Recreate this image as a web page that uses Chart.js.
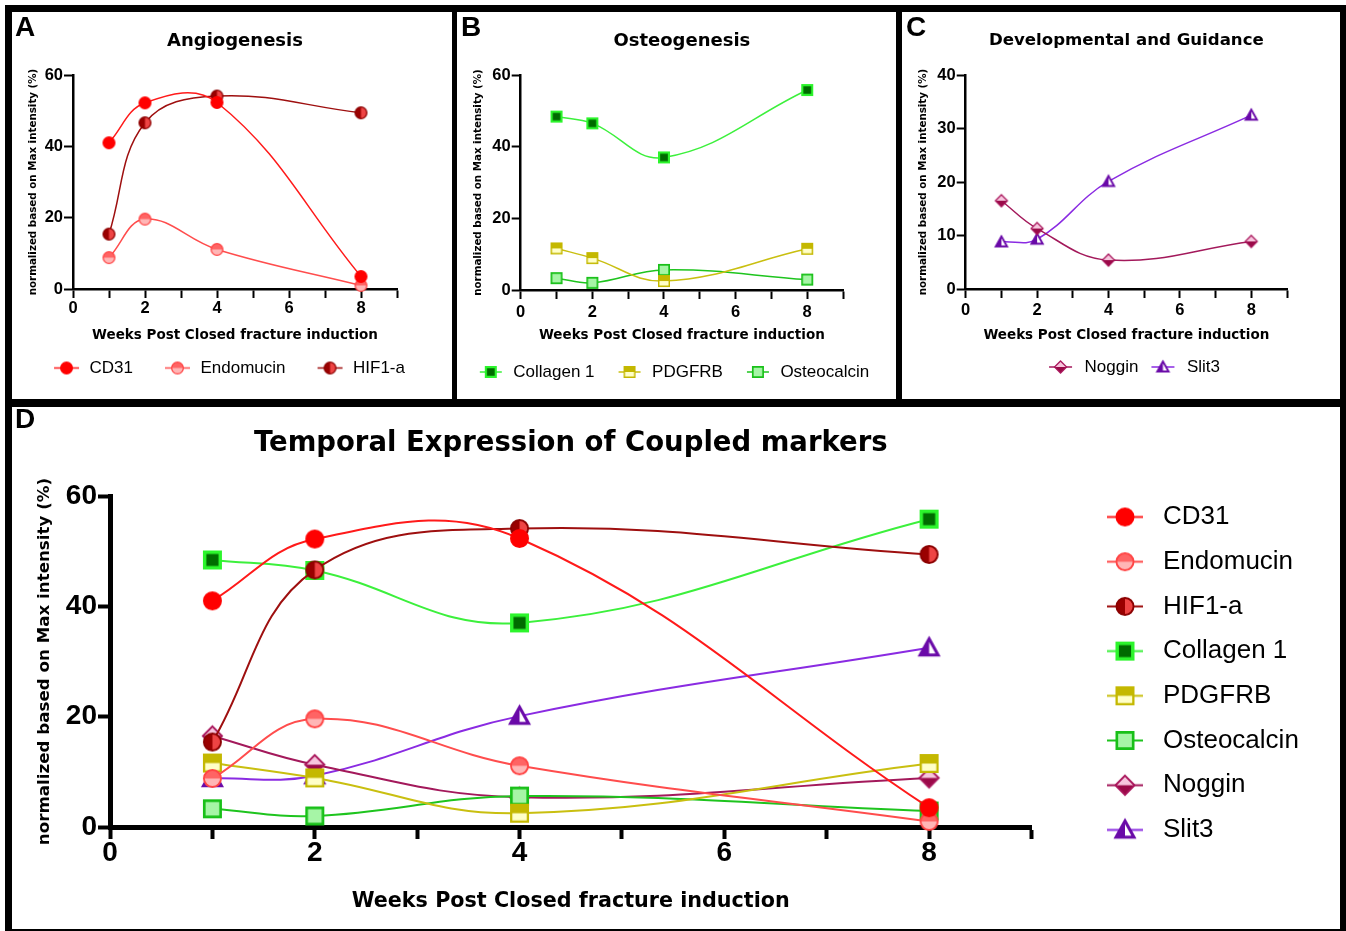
<!DOCTYPE html>
<html><head><meta charset="utf-8">
<script src="https://cdn.jsdelivr.net/npm/chart.js@4.4.1/dist/chart.umd.min.js"></script>
<style>
html,body{margin:0;padding:0;background:#fff;overflow:hidden;width:1346px;height:931px;}
#frame{position:absolute;left:5px;top:5px;width:1341px;height:926px;background:#000;}
.panel{position:absolute;background:#fff;}
canvas{position:absolute;}
.letter{position:absolute;font:bold 28px 'Liberation Sans',Arial,sans-serif;line-height:28px;color:#000;z-index:5;}
</style></head><body>
<div id="frame"></div>
<div class="panel" style="left:12px;top:12px;width:440px;height:387px"></div>
<div class="panel" style="left:457px;top:12px;width:439px;height:387px"></div>
<div class="panel" style="left:902px;top:12px;width:438px;height:387px"></div>
<div class="panel" style="left:12px;top:407px;width:1328px;height:522px"></div>
<div class="letter" style="left:15px;top:13px">A</div>
<div class="letter" style="left:461px;top:13px">B</div>
<div class="letter" style="left:906px;top:13px">C</div>
<div class="letter" style="left:15px;top:405px">D</div>
<canvas id="cA" width="411" height="387" style="left:12px;top:12px"></canvas>
<canvas id="cB" width="433" height="387" style="left:450px;top:12px"></canvas>
<canvas id="cC" width="460" height="387" style="left:902px;top:12px"></canvas>
<canvas id="cD" width="1334" height="522" style="left:12px;top:407px"></canvas>
<script>
// ---------------- data ----------------
const weeks = [1, 2, 4, 8];
const cd31 = [41.0, 52.2, 52.3, 3.5];
const endomucin = [8.8, 19.6, 11.1, 1.0];
const hif1a = [15.4, 46.6, 54.1, 49.4];
const collagen1 = [48.4, 46.5, 37.0, 55.8];
const pdgfrb = [11.6, 8.9, 2.5, 11.5];
const osteocalcin = [3.3, 2.0, 5.6, 2.9];
const noggin = [16.5, 11.3, 5.4, 8.9];
const slit3 = [8.8, 9.3, 20.1, 32.5];

const xTickMarks = [0, 1, 2, 3, 4, 5, 6, 7, 8, 9];
const xTickLabels = [0, 2, 4, 6, 8];
const yTicks60 = [0, 20, 40, 60];
const yTicks40 = [0, 10, 20, 30, 40];

const xTitle = 'Weeks Post Closed fracture induction';
const yTitle = 'normalized based on Max intensity (%)';

const DJ = "'DejaVu Sans', Verdana, sans-serif";
const LIB = "'Liberation Sans', Arial, sans-serif";

const SERIES = {
  cd31:        {label: 'CD31',        values: cd31,        line: '#ff1a1a', mk: {shape: 'circle',  stroke: '#ff0000', f1: '#ff0000', lw: 0.1}},
  endomucin:   {label: 'Endomucin',   values: endomucin,   line: '#ff4d4d', mk: {shape: 'circle',  stroke: '#ff4545', f1: '#ff6464', f2: '#ffb6b6', split: 'h', lw: 0.1}},
  hif1a:       {label: 'HIF1-a',      values: hif1a,       line: '#9e0f0f', mk: {shape: 'circle',  stroke: '#8b0000', f1: '#9a0000', f2: '#ee4444', split: 'v', lw: 0.1}},
  collagen1:   {label: 'Collagen 1',  values: collagen1,   line: '#3cf03c', mk: {shape: 'square',  stroke: '#2cf52c', f1: '#006b00', lw: 0.18}},
  pdgfrb:      {label: 'PDGFRB',      values: pdgfrb,      line: '#c9bf10', mk: {shape: 'square',  stroke: '#c4b800', f1: '#c4b800', f2: '#ffffc8', split: 'h', lw: 0.12}},
  osteocalcin: {label: 'Osteocalcin', values: osteocalcin, line: '#1ec41e', mk: {shape: 'square',  stroke: '#18c018', f1: '#a6f5a6', lw: 0.14}},
  noggin:      {label: 'Noggin',      values: noggin,      line: '#a3195b', mk: {shape: 'diamond', stroke: '#a8145a', f1: '#f7c6de', f2: '#9a0a48', split: 'h', lw: 0.1}},
  slit3:       {label: 'Slit3',       values: slit3,       line: '#8a2be2', mk: {shape: 'triangle',stroke: '#6a0aa8', f1: '#6a0aa8', f2: '#ffffff', split: 'v', lw: 0.16}}
};

// ---------------- marker painting ----------------
function drawShape(ctx, cx, cy, mk, s) {
  const lw = Math.max(1, s * mk.lw);
  const h = s / 2 - lw / 2;
  const path = () => {
    ctx.beginPath();
    if (mk.shape === 'circle') ctx.arc(cx, cy, h, 0, Math.PI * 2);
    else if (mk.shape === 'square') ctx.rect(cx - h, cy - h, 2 * h, 2 * h);
    else if (mk.shape === 'diamond') { const d = h * 1.12; ctx.moveTo(cx, cy - d); ctx.lineTo(cx + d, cy); ctx.lineTo(cx, cy + d); ctx.lineTo(cx - d, cy); ctx.closePath(); }
    else { const d = h * 1.12; ctx.moveTo(cx, cy - d); ctx.lineTo(cx + d, cy + d * 0.8); ctx.lineTo(cx - d, cy + d * 0.8); ctx.closePath(); }
  };
  ctx.save();
  path(); ctx.fillStyle = mk.f2 || mk.f1; ctx.fill();
  if (mk.f2) {
    ctx.save(); path(); ctx.clip();
    ctx.fillStyle = mk.f1;
    if (mk.split === 'h') ctx.fillRect(cx - s, cy - s, 2 * s, s);
    else ctx.fillRect(cx - s, cy - s, s, 2 * s);
    ctx.restore();
  }
  path(); ctx.lineWidth = lw; ctx.strokeStyle = mk.stroke; ctx.lineJoin = 'miter'; ctx.stroke();
  ctx.restore();
}
function pointIcon(mk, s) {
  const c = document.createElement('canvas');
  const n = Math.ceil(s * 1.3) + 4;
  c.width = n; c.height = n;
  drawShape(c.getContext('2d'), n / 2, n / 2, mk, s);
  return c;
}
function legendIcon(sr, lg, s, lineW) {
  const c = document.createElement('canvas');
  c.width = lg.B; c.height = Math.ceil(s * 1.3) + 4;
  const ctx = c.getContext('2d');
  const cy = c.height / 2;
  ctx.strokeStyle = sr.line; ctx.lineWidth = lineW;
  ctx.beginPath(); ctx.moveTo(lg.a, cy); ctx.lineTo(lg.a + lg.L, cy); ctx.stroke();
  drawShape(ctx, lg.a + lg.L / 2, cy, sr.mk, s);
  return c;
}

// ---------------- panels ----------------
const PANELS = [
  {id: 'cA', series: ['cd31', 'endomucin', 'hif1a'], title: 'Angiogenesis', titleSize: 18, titlePT: 18.2, titlePB: 23.2,
   yMax: 60, yTicks: yTicks60, yW: 61, ytPT: 14.8, yTitleSize: 10.3,
   xH: 62.5, xTitleSize: 13.5, xtPB: 8.4, xTickPad: 1.75,
   tickSize: 16.5, tl: 9, tw: 2, bw: 2.5, yTickPad: 1, S: 26,
   pad: {left: 0, right: 0, top: 0, bottom: 12.5},
   lg: {pos: 'bottom', align: 'center', B: 51, a: 24, L: 25, p: 8, fs: 17}, ms: 13, lineW: 1.5},
  {id: 'cB', series: ['collagen1', 'pdgfrb', 'osteocalcin'], title: 'Osteogenesis', titleSize: 18, titlePT: 18.2, titlePB: 23.2,
   yMax: 60, yTicks: yTicks60, yW: 70.7, ytPT: 21.8, yTitleSize: 10.3,
   xH: 65.5, xTitleSize: 13.5, xtPB: 12.4, xTickPad: 4.75,
   tickSize: 16.5, tl: 9, tw: 2, bw: 2.5, yTickPad: 1, S: 40,
   pad: {left: 0, right: 0, top: 0, bottom: 8.5},
   lg: {pos: 'bottom', align: 'center', B: 41, a: 16, L: 22, p: 8, fs: 17}, ms: 12, lineW: 1.5},
  {id: 'cC', series: ['noggin', 'slit3'], title: 'Developmental and Guidance', titleSize: 16.6, titlePT: 19.05, titlePB: 24.05,
   yMax: 40, yTicks: yTicks40, yW: 63.7, ytPT: 14.8, yTitleSize: 10.3,
   xH: 61.5, xTitleSize: 13.5, xtPB: 7.4, xTickPad: 3.75,
   tickSize: 16.5, tl: 9, tw: 2, bw: 2.5, yTickPad: 1, S: 75,
   pad: {left: 0, right: 0, top: 0, bottom: 13.5},
   lg: {pos: 'bottom', align: 'center', B: 32, a: 5, L: 23, p: 8, fs: 17}, ms: 12, lineW: 1.5},
  {id: 'cD', series: ['cd31', 'endomucin', 'hif1a', 'collagen1', 'pdgfrb', 'osteocalcin', 'noggin', 'slit3'],
   title: 'Temporal Expression of Coupled markers', titleSize: 27.5, titlePT: 20.5, titlePB: 35.5,
   yMax: 60, yTicks: yTicks60, yW: 98, ytPT: 23, yTitleSize: 16.7,
   xH: 102, xTitleSize: 20.7, xtPB: 14.6, xTickPad: 0,
   tickSize: 28, tl: 12, tw: 4, bw: 5, yTickPad: 1, S: 49.8,
   pad: {left: 0, right: 37.7, top: 0, bottom: 0},
   lg: {pos: 'right', align: 'start', B: 50, a: 7, L: 36, p: 18.7, fs: 26, maxWidth: 227, titlePad: 66.3}, ms: 19, lineW: 2}
];

Chart.defaults.color = '#000';
Chart.defaults.font.family = LIB;

function makeChart(P) {
  const keys = P.series;
  const icons = keys.map(k => legendIcon(SERIES[k], P.lg, P.ms, P.lineW));
  const lgTitle = P.lg.titlePad
    ? {display: true, text: '', font: {size: 10, lineHeight: 1.2}, padding: {top: P.lg.titlePad, bottom: 0}}
    : {display: false};
  return new Chart(document.getElementById(P.id), {
    type: 'line',
    data: {
      datasets: keys.map(k => {
        const sr = SERIES[k];
        return {
          label: sr.label,
          data: weeks.map((w, i) => ({x: w, y: sr.values[i]})),
          borderColor: sr.line, backgroundColor: sr.line,
          borderWidth: P.lineW, tension: 0.4, fill: false,
          pointStyle: pointIcon(sr.mk, P.ms), pointRadius: P.ms / 2, pointHoverRadius: P.ms / 2,
          clip: false, xAxisID: 'x', yAxisID: 'y'
        };
      })
    },
    options: {
      responsive: false, animation: false, events: [],
      layout: {autoPadding: false, padding: P.pad},
      plugins: {
        tooltip: {enabled: false},
        title: {display: true, text: P.title, fullSize: false, align: 'center', color: '#000',
                font: {family: DJ, size: P.titleSize, weight: 'bold', lineHeight: 1.2},
                padding: {top: P.titlePT, bottom: P.titlePB}},
        legend: {
          display: true, position: P.lg.pos, align: P.lg.align, fullSize: true,
          maxWidth: P.lg.maxWidth, title: lgTitle,
          labels: {
            usePointStyle: true, pointStyleWidth: P.lg.B, padding: P.lg.p, color: '#000',
            font: {family: LIB, size: P.lg.fs, lineHeight: 1.2},
            generateLabels: () => keys.map((k, i) => ({
              text: SERIES[k].label, pointStyle: icons[i], fillStyle: 'rgba(0,0,0,0)',
              strokeStyle: 'rgba(0,0,0,0)', lineWidth: 0, hidden: false, datasetIndex: i
            }))
          }
        }
      },
      scales: {
        x: {
          type: 'linear', position: 'bottom', min: 0, max: 9,
          afterBuildTicks: s => { s.ticks = xTickMarks.map(v => ({value: v})); },
          afterFit: s => { s.height = P.xH; },
          grid: {drawOnChartArea: false, drawTicks: true, tickLength: P.tl, tickWidth: P.tw, tickColor: '#000'},
          border: {display: true, color: '#000', width: P.bw},
          ticks: {autoSkip: false, maxRotation: 0, padding: P.xTickPad, color: '#000',
                  font: {family: LIB, size: P.tickSize, weight: 'bold', lineHeight: 1},
                  callback: v => xTickLabels.includes(v) ? String(v) : ''},
          title: {display: true, text: xTitle, color: '#000',
                  font: {family: DJ, size: P.xTitleSize, weight: 'bold', lineHeight: 1.2},
                  padding: {top: 0, bottom: P.xtPB}}
        },
        y: {
          type: 'linear', position: 'left', min: 0, max: P.yMax,
          afterBuildTicks: s => { s.ticks = P.yTicks.map(v => ({value: v})); },
          afterFit: s => { s.width = P.yW; },
          grid: {drawOnChartArea: false, drawTicks: true, tickLength: P.tl, tickWidth: P.tw, tickColor: '#000'},
          border: {display: true, color: '#000', width: P.bw},
          ticks: {padding: P.yTickPad, color: '#000',
                  font: {family: LIB, size: P.tickSize, weight: 'bold', lineHeight: 1}},
          title: {display: true, text: yTitle, color: '#000',
                  font: {family: DJ, size: P.yTitleSize, weight: 'bold', lineHeight: 1.2},
                  padding: {top: P.ytPT, bottom: 0}}
        },
        sp: {
          type: 'linear', position: 'right', display: true,
          afterFit: s => { s.width = P.S; },
          grid: {display: false, drawTicks: false}, border: {display: false},
          ticks: {display: false}
        }
      }
    }
  });
}
PANELS.forEach(makeChart);
</script>
</body></html>
